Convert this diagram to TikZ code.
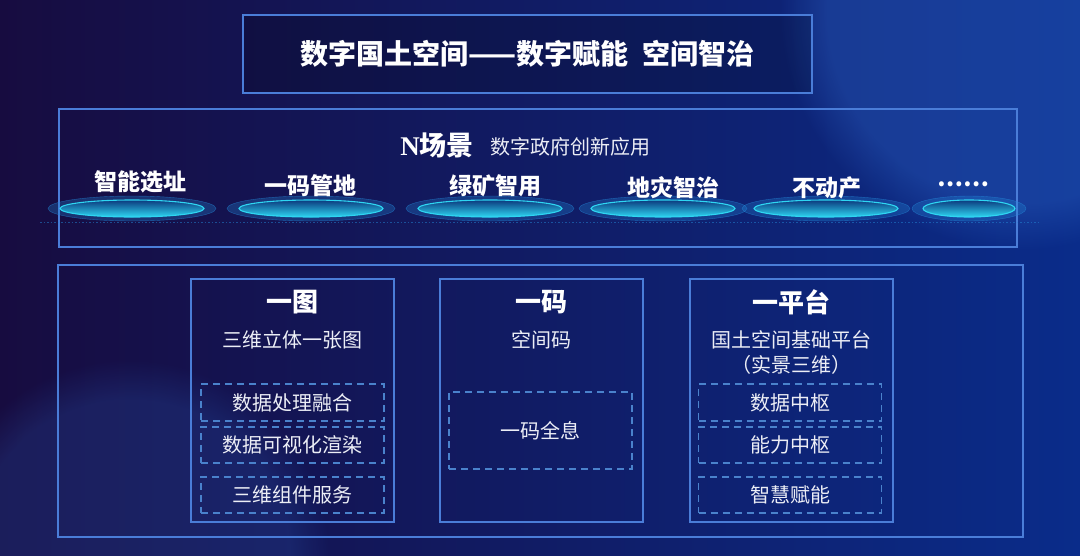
\documentclass[tikz,border=0pt]{standalone}
\usepackage{fontspec}
\setmainfont{Liberation Serif}
\newfontfamily\cjk{Noto Sans CJK SC}
\usetikzlibrary{fadings}

\definecolor{bgleft}{HTML}{170C40}
\definecolor{bgmid}{HTML}{0C186F}
\definecolor{bgright}{HTML}{0A2C8A}
\definecolor{glowc}{HTML}{2F66C8}
\definecolor{framec}{HTML}{4A7DD8}
\definecolor{dashc}{HTML}{4A82CC}
\definecolor{ringc}{HTML}{2388D8}
\definecolor{discc}{HTML}{0C3A7E}
\definecolor{cyanc}{HTML}{2ED6F2}
\definecolor{textc}{HTML}{ECEEF6}

\begin{document}
\begin{tikzpicture}[x=1pt,y=-1pt,
  frame/.style={draw=framec,line width=1.5pt,inner sep=0pt},
  dashbox/.style={draw=dashc,line width=1.1pt,dash pattern=on 7pt off 5pt,
    minimum width=183pt,text=textc,font=\cjk\fontsize{20}{24}\selectfont},
  coltitle/.style={text=white,font=\cjk\bfseries\fontsize{26}{30}\selectfont},
  colsub/.style={text=textc,align=center,font=\cjk\fontsize{20}{25}\selectfont},
  scene/.style={text=white,font=\cjk\bfseries\fontsize{23}{27}\selectfont}]
\useasboundingbox (0,0) rectangle (1080,555);
% background
\shade[left color=bgleft,middle color=bgmid,right color=bgright] (0,0) rectangle (1080,555);
\fill[glowc,fill opacity=0.35,path fading=circle with fuzzy edge 20 percent] (1020,10) circle (240);
\fill[glowc,fill opacity=0.2,path fading=circle with fuzzy edge 20 percent] (130,560) circle (200);

% top banner
\node[frame,minimum width=569pt,minimum height=78pt,fill=black,fill opacity=0.18,
  text opacity=1,text=white,font=\cjk\bfseries\fontsize{28}{32}\selectfont]
  (banner) at (527.5,54) {数字国土空间——数字赋能\hspace{0.5em}空间智治};

% N scenes
\node[frame,minimum width=958pt,minimum height=138pt] (scenes) at (538,178) {};
\node[text=white,font=\bfseries\fontsize{27}{30}\selectfont] (head) at (437,145) {N{\cjk 场景}};
\node[text=textc,anchor=west,inner sep=0pt,font=\cjk\fontsize{20}{24}\selectfont] (headsub) at (490,147) {数字政府创新应用};

\draw[ringc,opacity=0.5,dash pattern=on 1.5pt off 2pt,line width=0.8pt] (40,222) -- (1040,222);
\fill[ringc,fill opacity=0.3] (132,208.5) ellipse (84 and 12.5);
\draw[ringc,opacity=0.6] (132,208.5) ellipse (84 and 12.5);
\shade[top color=discc,bottom color=cyanc] (132,208.5) ellipse (72 and 8.5);
\draw[cyanc,line width=1.1pt] (132,208.5) ellipse (72 and 8.5);
\fill[ringc,fill opacity=0.3] (311,208.5) ellipse (84 and 12.5);
\draw[ringc,opacity=0.6] (311,208.5) ellipse (84 and 12.5);
\shade[top color=discc,bottom color=cyanc] (311,208.5) ellipse (72 and 8.5);
\draw[cyanc,line width=1.1pt] (311,208.5) ellipse (72 and 8.5);
\fill[ringc,fill opacity=0.3] (490,208.5) ellipse (84 and 12.5);
\draw[ringc,opacity=0.6] (490,208.5) ellipse (84 and 12.5);
\shade[top color=discc,bottom color=cyanc] (490,208.5) ellipse (72 and 8.5);
\draw[cyanc,line width=1.1pt] (490,208.5) ellipse (72 and 8.5);
\fill[ringc,fill opacity=0.3] (663,208.5) ellipse (84 and 12.5);
\draw[ringc,opacity=0.6] (663,208.5) ellipse (84 and 12.5);
\shade[top color=discc,bottom color=cyanc] (663,208.5) ellipse (72 and 8.5);
\draw[cyanc,line width=1.1pt] (663,208.5) ellipse (72 and 8.5);
\fill[ringc,fill opacity=0.3] (826,208.5) ellipse (84 and 12.5);
\draw[ringc,opacity=0.6] (826,208.5) ellipse (84 and 12.5);
\shade[top color=discc,bottom color=cyanc] (826,208.5) ellipse (72 and 8.5);
\draw[cyanc,line width=1.1pt] (826,208.5) ellipse (72 and 8.5);
\fill[ringc,fill opacity=0.3] (969,208.5) ellipse (57 and 12.5);
\draw[ringc,opacity=0.6] (969,208.5) ellipse (57 and 12.5);
\shade[top color=discc,bottom color=cyanc] (969,208.5) ellipse (46 and 8.5);
\draw[cyanc,line width=1.1pt] (969,208.5) ellipse (46 and 8.5);

\node[scene] (s1) at (140,182) {智能选址};
\node[scene] (s2) at (310,186) {一码管地};
\node[scene] (s3) at (495,186) {绿矿智用};
\node[scene] (s4) at (673,188) {地灾智治};
\node[scene] (s5) at (827,188) {不动产};
\node[scene] (s6) at (963,184) {……};

% base: one map, one code, one platform
\node[frame,minimum width=965pt,minimum height=272pt] (base) at (540.5,401) {};

\node[frame,minimum width=203pt,minimum height=243pt] (map) at (292.5,400.5) {};
\node[coltitle] (mapT) at (292.5,302) {一图};
\node[colsub] (mapS) at (292.5,340) {三维立体一张图};
\node[dashbox,minimum height=37pt] (map1) at (292.5,402.5) {数据处理融合};
\node[dashbox,minimum height=36pt] (map2) at (292.5,445) {数据可视化渲染};
\node[dashbox,minimum height=36pt] (map3) at (292.5,495) {三维组件服务};

\node[frame,minimum width=203pt,minimum height=243pt] (code) at (541.5,400.5) {};
\node[coltitle] (codeT) at (541.5,302) {一码};
\node[colsub] (codeS) at (541.5,340) {空间码};
\node[dashbox,minimum height=77pt] (code1) at (540.5,430.5) {一码全息};

\node[frame,minimum width=203pt,minimum height=243pt] (plat) at (791.5,400.5) {};
\node[coltitle] (platT) at (791.5,302) {一平台};
\node[colsub] (platS) at (791.5,352.5) {国土空间基础平台\\（实景三维）};
\node[dashbox,minimum height=37pt] (plat1) at (790,402.5) {数据中枢};
\node[dashbox,minimum height=36pt] (plat2) at (790,445) {能力中枢};
\node[dashbox,minimum height=36pt] (plat3) at (790,495) {智慧赋能};
\end{tikzpicture}
\end{document}
